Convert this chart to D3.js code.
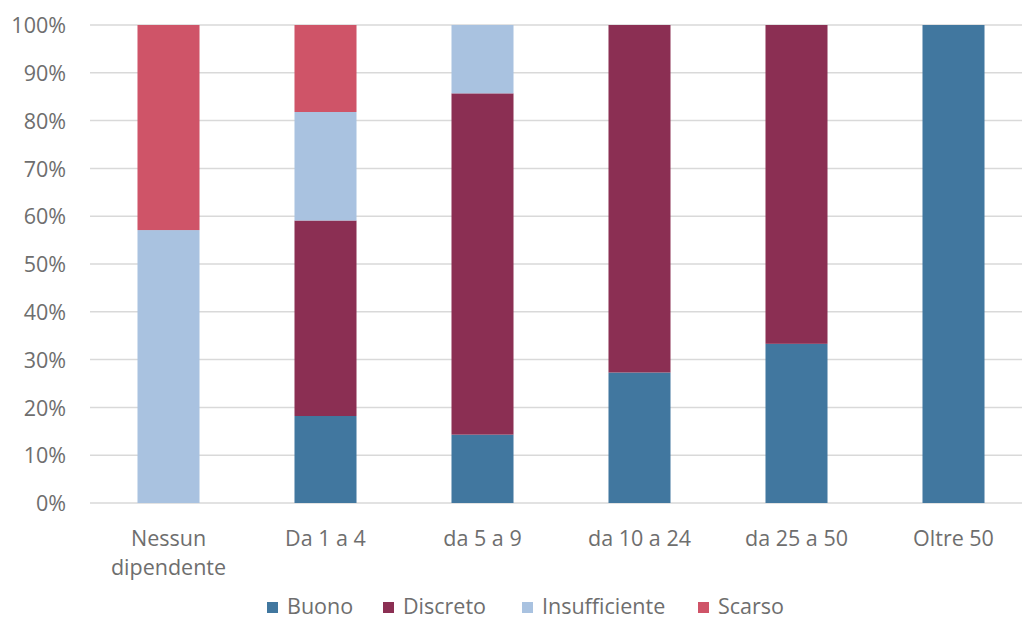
<!DOCTYPE html>
<html>
<head>
<meta charset="utf-8">
<script src="https://cdn.jsdelivr.net/npm/d3@7"></script>
<style>
  html, body { margin: 0; padding: 0; background: #fff; }
  svg { display: block; font-family: "Open Sans", "Noto Sans", sans-serif; }
</style>
</head>
<body>
<svg id="chart" width="1022" height="623"></svg>
<script>
// Company size classes
const categories = ["Nessun dipendente", "Da 1 a 4", "da 5 a 9", "da 10 a 24", "da 25 a 50", "Oltre 50"];
// Share (%) of each rating per class
const buono         = [0,    18.2, 14.3, 27.3, 33.3, 100];
const discreto      = [0,    40.9, 71.4, 72.7, 66.7, 0];
const insufficiente = [57.1, 22.7, 14.3, 0,    0,    0];
const scarso        = [42.9, 18.2, 0,    0,    0,    0];
const seriesNames = ["Buono", "Discreto", "Insufficiente", "Scarso"];
const seriesColors = ["#41779f", "#8b2f53", "#a9c2e0", "#cf5468"];
const yTicks = [0, 10, 20, 30, 40, 50, 60, 70, 80, 90, 100];

const table = categories.map((c, i) => ({
  cat: c,
  Buono: buono[i], Discreto: discreto[i], Insufficiente: insufficiente[i], Scarso: scarso[i]
}));

const textColor = "#6e6e6e";
const fontSize = "21.5px";

const svg = d3.select("#chart");
const x = d3.scaleBand().domain(categories).range([90, 1032]).paddingInner(0.605).paddingOuter(0.3025);
const y = d3.scaleLinear().domain([0, 100]).range([503, 25]);
const color = d3.scaleOrdinal().domain(seriesNames).range(seriesColors);

// Gridlines
svg.append("g").selectAll("line").data(yTicks).join("line")
  .attr("x1", 90).attr("x2", 1032)
  .attr("y1", d => y(d)).attr("y2", d => y(d))
  .attr("stroke", "#d9d9d9").attr("stroke-width", 1.5);

// Y axis labels
const yAxis = svg.append("g").attr("transform", "translate(66,0)")
  .call(d3.axisLeft(y).tickValues(yTicks).tickFormat(d => d + "%").tickSize(0).tickPadding(0));
yAxis.select(".domain").remove();
yAxis.selectAll("text").attr("fill", textColor).attr("dy", "0.36em").style("font-size", fontSize)
  .style("font-family", "'Open Sans', 'Noto Sans', sans-serif");

// Stacked bars
const stacked = d3.stack().keys(seriesNames)(table);
svg.append("g").selectAll("g").data(stacked).join("g")
  .attr("fill", d => color(d.key))
  .selectAll("rect").data(d => d.filter(p => p[1] - p[0] > 0)).join("rect")
  .attr("x", d => x(d.data.cat))
  .attr("width", x.bandwidth())
  .attr("y", d => y(d[1]))
  .attr("height", d => y(d[0]) - y(d[1]));

// X axis labels (wrapped on two lines where needed)
const xLabels = svg.append("g");
categories.forEach(c => {
  const words = c === "Nessun dipendente" ? ["Nessun", "dipendente"] : [c];
  const cx = x(c) + x.bandwidth() / 2;
  const t = xLabels.append("text")
    .attr("x", cx)
    .attr("y", 546)
    .attr("text-anchor", "middle")
    .attr("fill", textColor)
    .style("font-size", fontSize);
  words.forEach((w, i) => {
    t.append("tspan").attr("x", cx).attr("dy", i === 0 ? 0 : 29).text(w);
  });
});

// Legend
const legendItems = [
  { name: "Buono", x: 267 },
  { name: "Discreto", x: 383 },
  { name: "Insufficiente", x: 522 },
  { name: "Scarso", x: 698 }
];
const legend = svg.append("g");
legendItems.forEach(it => {
  legend.append("rect").attr("x", it.x).attr("y", 602).attr("width", 11).attr("height", 11)
    .attr("fill", color(it.name));
  legend.append("text").attr("x", it.x + 20).attr("y", 614)
    .attr("fill", textColor).style("font-size", fontSize).text(it.name);
});
</script>
</body>
</html>
